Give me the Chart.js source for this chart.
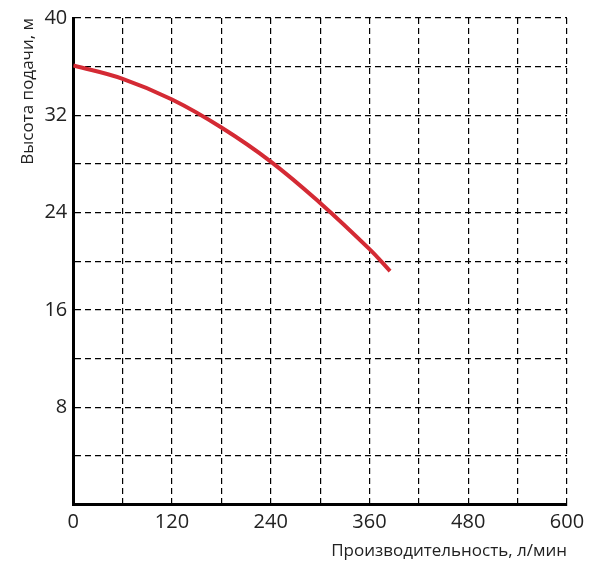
<!DOCTYPE html>
<html><head><meta charset="utf-8">
<script src="https://cdn.jsdelivr.net/npm/chart.js@4"></script>
<style>html,body{margin:0;padding:0;background:#fff}#w{width:600px;height:561px}</style>
</head><body><div id="w"><canvas id="c"></canvas></div>
<script>
const flow = [0, 60, 120, 180, 240, 300, 360, 385];
const head = [36.1, 35.0, 33.3, 31.0, 28.2, 24.8, 21.0, 19.2];
const xTitle = "Производительность, л/мин";
const yTitle = "Высота подачи, м";
const grid = {color:'#000', lineWidth:1.2, tickLength:0, drawTicks:false};
new Chart(document.getElementById('c'), {
  type:'line',
  data:{datasets:[{data:flow.map((x,i)=>({x, y:head[i]})), borderColor:'#d42a34', borderWidth:4, pointRadius:0, tension:0.4, fill:false}]},
  options:{responsive:true, maintainAspectRatio:false, animation:false,
    layout:{padding:{top:18, right:33, bottom:0, left:14}},
    plugins:{legend:{display:false}, tooltip:{enabled:false}},
    scales:{
      x:{type:'linear', min:0, max:600,
        border:{display:true, color:'#000', width:3, dash:[6,4]},
        grid:grid,
        ticks:{stepSize:60, autoSkip:false, maxRotation:0, padding:6, color:'#222', font:{family:'Open Sans', size:20}, callback:v=>v%120===0?v:''},
        title:{display:true, text:xTitle, align:'end', color:'#222', font:{family:'Open Sans', size:17}, padding:{top:0, bottom:0}}},
      y:{min:0, max:40,
        border:{display:true, color:'#000', width:3, dash:[6,4]},
        grid:grid,
        ticks:{stepSize:4, autoSkip:false, padding:6, color:'#222', font:{family:'Open Sans', size:20}, callback:v=>v%8===0&&v>0?v:''},
        title:{display:true, text:yTitle, align:'end', color:'#222', font:{family:'Open Sans', size:17}, padding:{bottom:0}}}
    }
  }
});
</script></body></html>
